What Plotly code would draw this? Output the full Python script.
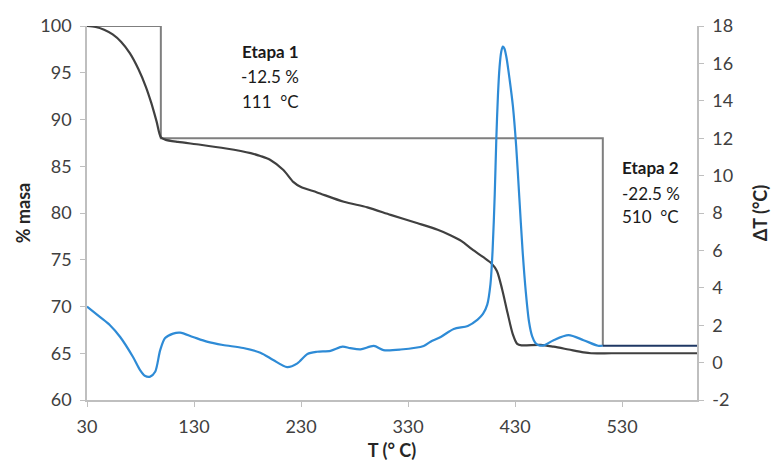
import plotly.graph_objects as go

# TGA curve (% masa, left axis)
T_tga = [30, 38, 46, 54, 62, 70, 78, 85, 90, 95, 99, 103, 115, 136, 160, 183, 192, 201,
         213.5, 223, 229.5, 245, 270, 292, 313.7, 339, 357.7, 370, 380, 390, 400, 408,
         413, 418, 423, 428, 432, 436, 454, 466, 480, 494, 501, 520, 560, 600]
masa = [100, 99.9, 99.6, 99.1, 98.3, 97.1, 95.4, 93.5, 91.8, 89.8, 88.1, 87.85, 87.6, 87.3,
        86.9, 86.4, 86.1, 85.7, 84.6, 83.3, 82.8, 82.2, 81.2, 80.6, 79.8, 78.9, 78.2, 77.6,
        77.0, 76.1, 75.3, 74.6, 73.8, 71.8, 69.3, 67.0, 66.0, 65.85, 65.9, 65.7, 65.4, 65.1,
        65.0, 65.0, 65.0, 65.0]

# DTA curve (ΔT, right axis)
T_dta = [30, 42, 51.5, 61, 73, 79.6, 84, 89, 93.7, 98.4, 103, 110.5, 117, 129, 142, 157,
         176, 192, 204, 217, 226.6, 236, 245, 257.5, 268.8, 276, 285.6, 298, 307, 323,
         344.6, 351, 360.5, 372.7, 385.8, 395, 400, 404, 407, 409, 411, 412.5, 414, 415.5,
         417, 418.5, 420, 422, 425, 428, 431, 434, 437, 440, 443, 446, 449, 452, 457, 466,
         480, 494, 507.5, 512]
dT = [3.0, 2.44, 2.0, 1.37, 0.3, -0.4, -0.7, -0.75, -0.49, 0.67, 1.31, 1.55, 1.6, 1.37,
      1.12, 0.94, 0.78, 0.53, 0.14, -0.24, -0.04, 0.46, 0.58, 0.63, 0.85, 0.77, 0.71, 0.89,
      0.67, 0.7, 0.89, 1.12, 1.37, 1.8, 1.96, 2.3, 2.6, 3.1, 4.2, 6.0, 9.0, 12.0, 14.3,
      15.8, 16.6, 16.9, 16.8, 16.3, 15.1, 13.7, 11.6, 8.8, 6.0, 3.8, 2.2, 1.4, 1.05, 0.93,
      0.92, 1.2, 1.47, 1.2, 0.9, 0.9]

# Step (stage) lines
step_T = [30, 99, 99, 512, 512]
step_m = [100, 100, 88, 88, 65.8]
end_T = [512, 600]
end_dT = [0.9, 0.9]

# Axis ticks
x_ticks = [30, 130, 230, 330, 430, 530]
y_ticks = [60, 65, 70, 75, 80, 85, 90, 95, 100]
y2_ticks = [-2, 0, 2, 4, 6, 8, 10, 12, 14, 16, 18]
y2_text = ["-2", "0", "2", "4", "6", "8", "10", "12", "14", "16", "18"]

FONT = "Lato"
TXT = "#404040"
TITLE = "#262626"

fig = go.Figure()
fig.add_trace(go.Scatter(x=step_T, y=step_m, mode="lines",
                         line=dict(color="#7F7F7F", width=2), showlegend=False))
fig.add_trace(go.Scatter(x=T_tga, y=masa, mode="lines",
                         line=dict(color="#404040", width=2.2, shape="spline", smoothing=0.8),
                         showlegend=False))
fig.add_trace(go.Scatter(x=T_dta, y=dT, mode="lines", yaxis="y2",
                         line=dict(color="#2E8BD6", width=2.2, shape="spline", smoothing=0.8),
                         showlegend=False))
fig.add_trace(go.Scatter(x=end_T, y=end_dT, mode="lines", yaxis="y2",
                         line=dict(color="#1F3864", width=2.2), showlegend=False))

ann = []
def txt(x, y, s, bold=False):
    ann.append(dict(x=x, y=y, xref="x", yref="y", text=f"<b>{s}</b>" if bold else s,
                    showarrow=False, font=dict(family=FONT, size=17, color="#1a1a1a"),
                    xanchor="center", yanchor="middle"))

txt(201, 97.3, "Etapa 1", True)
txt(201, 94.6, "-12.5 %")
txt(201, 91.9, "111  °C")
txt(557, 84.9, "Etapa 2", True)
txt(557, 82.1, "-22.5 %")
txt(557, 79.6, "510  °C")

axis_common = dict(showline=True, linecolor="#BFBFBF", linewidth=1.5, ticks="outside",
                   tickcolor="#BFBFBF", ticklen=5, showgrid=False, zeroline=False,
                   ticklabelstandoff=5, automargin=False,
                   tickfont=dict(family=FONT, size=18, color=TXT))

fig.update_layout(
    width=781, height=465,
    margin=dict(l=87, r=84, t=26, b=65),
    paper_bgcolor="white", plot_bgcolor="white",
    font=dict(family=FONT, color=TXT),
    xaxis=dict(range=[30, 600], tickvals=x_ticks,
               title=dict(text="<b>T (° C)</b>", font=dict(family=FONT, size=18, color=TITLE),
                          standoff=8),
               **axis_common),
    yaxis=dict(range=[60, 100], tickvals=y_ticks,
               title=dict(text="<b>% masa</b>", font=dict(family=FONT, size=18, color=TITLE),
                          standoff=5),
               **axis_common),
    yaxis2=dict(range=[-2, 18], tickvals=y2_ticks, ticktext=y2_text, overlaying="y",
                side="right",
                title=dict(text="<b>ΔT (°C)</b>", font=dict(family=FONT, size=18, color=TITLE),
                           standoff=22),
                **axis_common),
    annotations=ann,
)

fig.write_html("out.html")
